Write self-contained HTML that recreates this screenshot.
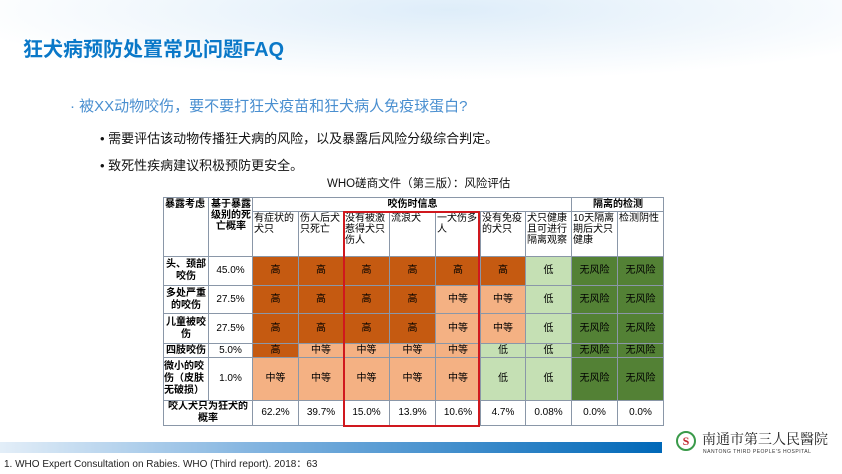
<!DOCTYPE html>
<html><head><meta charset="utf-8"><style>
body{margin:0;width:842px;height:474px;position:relative;overflow:hidden;background:#fff;font-family:"Liberation Sans","Noto Sans CJK SC",sans-serif;}
.deco{position:absolute;left:0;top:0;width:842px;height:90px;background:radial-gradient(ellipse 500px 70px at 450px 10px,rgba(200,225,245,.6),rgba(255,255,255,0));}
.t{position:absolute;white-space:nowrap}
table{position:absolute;left:163px;top:197px;border-collapse:collapse;table-layout:fixed;font-size:10px;color:#000}
td{border:1px solid #8a97a8;padding:0;text-align:center;vertical-align:middle;line-height:12px;overflow:hidden}
.h td{vertical-align:top;text-align:left;padding-left:1px;padding-top:1px;line-height:11px}
.d{background:#C55A11}.l{background:#F4B183}.g{background:#C5E0B4}.G{background:#538135}
.lab{font-weight:bold;text-align:center;line-height:12px}
</style></head><body>
<div class="deco"></div>
<div class="t" style="left:23px;top:33px;font-size:20px;font-weight:bold;color:#0a78c8">狂犬病预防处置常见问题FAQ</div>
<div class="t" style="left:70px;top:95px;font-size:15px;color:#4a8fd0">· 被XX动物咬伤，要不要打狂犬疫苗和狂犬病人免疫球蛋白?</div>
<div class="t" style="left:100px;top:128px;font-size:13px;color:#111">• 需要评估该动物传播狂犬病的风险，以及暴露后风险分级综合判定。</div>
<div class="t" style="left:100px;top:155px;font-size:13px;color:#111">• 致死性疾病建议积极预防更安全。</div>
<div class="t" style="left:327px;top:175px;font-size:11.5px;color:#111">WHO磋商文件（第三版）：风险评估</div>
<table>
<colgroup><col style="width:45px"><col style="width:44px"><col style="width:46px"><col style="width:45px"><col style="width:46px"><col style="width:46px"><col style="width:45px"><col style="width:45px"><col style="width:46px"><col style="width:46px"><col style="width:46px"></colgroup>
<tr style="height:14px" class="h"><td rowspan="2" style="font-weight:bold">暴露考虑</td><td rowspan="2" style="text-align:center;font-weight:bold">基于暴露<br>级别的死<br>亡概率</td><td colspan="7" style="text-align:center;font-weight:bold">咬伤时信息</td><td colspan="2" style="text-align:center;font-weight:bold">隔离的检测</td></tr>
<tr style="height:45px" class="h"><td>有症状的犬只</td><td>伤人后犬只死亡</td><td>没有被激惹得犬只伤人</td><td>流浪犬</td><td>一犬伤多人</td><td>没有免疫的犬只</td><td>犬只健康且可进行隔离观察</td><td>10天隔离期后犬只健康</td><td>检测阴性</td></tr>
<tr style="height:29px"><td class="lab">头、颈部<br>咬伤</td><td>45.0%</td><td class="d">高</td><td class="d">高</td><td class="d">高</td><td class="d">高</td><td class="d">高</td><td class="d">高</td><td class="g">低</td><td class="G">无风险</td><td class="G">无风险</td></tr>
<tr style="height:28px"><td class="lab">多处严重<br>的咬伤</td><td>27.5%</td><td class="d">高</td><td class="d">高</td><td class="d">高</td><td class="d">高</td><td class="l">中等</td><td class="l">中等</td><td class="g">低</td><td class="G">无风险</td><td class="G">无风险</td></tr>
<tr style="height:30px"><td class="lab">儿童被咬<br>伤</td><td>27.5%</td><td class="d">高</td><td class="d">高</td><td class="d">高</td><td class="d">高</td><td class="l">中等</td><td class="l">中等</td><td class="g">低</td><td class="G">无风险</td><td class="G">无风险</td></tr>
<tr style="height:14px"><td class="lab">四肢咬伤</td><td>5.0%</td><td class="d">高</td><td class="l">中等</td><td class="l">中等</td><td class="l">中等</td><td class="l">中等</td><td class="g">低</td><td class="g">低</td><td class="G">无风险</td><td class="G">无风险</td></tr>
<tr style="height:43px"><td class="lab" style="text-align:left">微小的咬<br>伤（皮肤<br>无破损）</td><td>1.0%</td><td class="l">中等</td><td class="l">中等</td><td class="l">中等</td><td class="l">中等</td><td class="l">中等</td><td class="g">低</td><td class="g">低</td><td class="G">无风险</td><td class="G">无风险</td></tr>
<tr style="height:23px"><td colspan="2" class="lab">咬人犬只为狂犬的概率</td><td>62.2%</td><td>39.7%</td><td>15.0%</td><td>13.9%</td><td>10.6%</td><td>4.7%</td><td>0.08%</td><td>0.0%</td><td>0.0%</td></tr>
</table>
<div style="position:absolute;left:343px;top:211px;width:133px;height:212px;border:2px solid #d0181e"></div>
<div style="position:absolute;left:0;top:442px;width:662px;height:11px;background:linear-gradient(90deg,#e3eef8,#7fb2df 40%,#0068b8)"></div>
<div class="t" style="left:4px;top:455px;font-size:10px;color:#222">1. WHO Expert Consultation on Rabies. WHO (Third report). 2018：63</div>
<div style="position:absolute;left:676px;top:431px;width:20px;height:20px;border-radius:50%;border:2px solid #3a9a4a;box-sizing:border-box;text-align:center;font:bold 12px/16px 'Liberation Serif',serif;color:#c0272d">S</div>
<div class="t" style="left:702px;top:429px;font-size:14px;font-family:'Noto Serif CJK SC',serif;color:#222;letter-spacing:0px">南通市第三人民醫院</div>
<div class="t" style="left:703px;top:449px;font-size:5px;color:#333;letter-spacing:.5px">NANTONG THIRD PEOPLE'S HOSPITAL</div>
</body></html>
